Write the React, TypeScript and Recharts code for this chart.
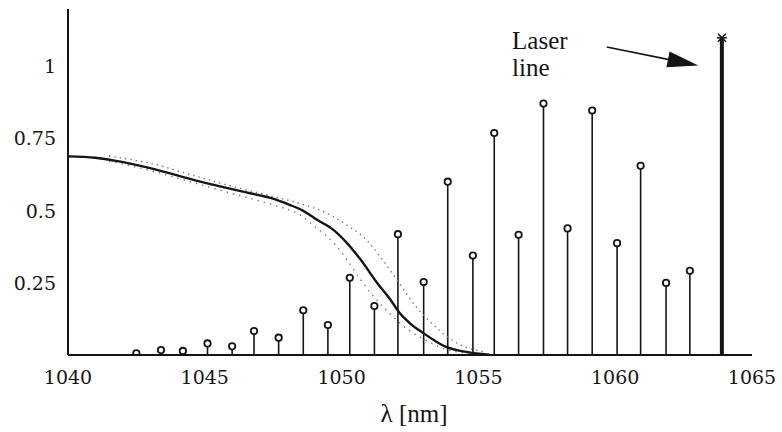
import { Bar, ComposedChart, Line, ReferenceDot, ReferenceLine, XAxis, YAxis } from "recharts";

// longitudinal modes (nm) and their relative power
const modeWavelength = [
  1042.5, 1043.4, 1044.2, 1045.1, 1046.0, 1046.8, 1047.7, 1048.6, 1049.5, 1050.3, 1051.2, 1052.06,
  1053.0, 1053.88, 1054.8, 1055.58, 1056.47, 1057.38, 1058.26, 1059.16, 1060.07, 1060.93, 1061.86, 1062.73,
];
const modePower = [
  0.006, 0.017, 0.014, 0.04, 0.03, 0.083, 0.06, 0.155, 0.104, 0.268, 0.17, 0.419,
  0.253, 0.601, 0.345, 0.77, 0.417, 0.872, 0.439, 0.848, 0.388, 0.656, 0.25, 0.292,
];
const laserWavelength = 1063.9;
const laserPower = 1.1;

// fitted transmission curve
const fitWavelength = [
  1040, 1041, 1041.7, 1043, 1044.8, 1046.65, 1047.4, 1048.1, 1048.6, 1049.1, 1049.7, 1050.2,
  1050.7, 1051.3, 1051.8, 1052.1, 1052.5, 1053.0, 1053.4, 1053.8, 1054.3, 1054.8, 1055.4,
];
const fitValue = [
  0.689, 0.684, 0.674, 0.648, 0.602, 0.561, 0.545, 0.521, 0.5, 0.469, 0.434, 0.388,
  0.33, 0.25, 0.19, 0.148, 0.11, 0.075, 0.05, 0.029, 0.015, 0.007, 0.001,
];

// scattered measured points, upper and lower edge of the cloud
const upperWavelength = [
  1041.5, 1043, 1044.5, 1046, 1047.5, 1048.5, 1049.5, 1050.2, 1050.9, 1051.5, 1052.1, 1052.7, 1053.3, 1053.9, 1054.6, 1055.3,
];
const upperValue = [0.69, 0.665, 0.625, 0.585, 0.55, 0.525, 0.49, 0.45, 0.4, 0.33, 0.25, 0.17, 0.11, 0.06, 0.025, 0.01];
const lowerWavelength = [
  1041.5, 1043, 1044.5, 1046, 1047.5, 1048.4, 1049.1, 1049.7, 1050.2, 1050.7, 1051.2, 1051.8, 1052.4, 1053.1, 1053.8, 1054.5,
];
const lowerValue = [0.672, 0.64, 0.6, 0.56, 0.52, 0.49, 0.44, 0.39, 0.33, 0.26, 0.2, 0.14, 0.09, 0.05, 0.02, 0.008];

const xTicks = [1040, 1045, 1050, 1055, 1060, 1065];
const yTicks = [0.25, 0.5, 0.75, 1];

const stems = [
  ...modeWavelength.map((w, i) => ({ w, p: modePower[i], laser: false })),
  { w: laserWavelength, p: laserPower, laser: true },
];
const fit = fitWavelength.map((w, i) => ({ w, v: fitValue[i] }));
const upper = upperWavelength.map((w, i) => ({ w, v: upperValue[i] }));
const lower = lowerWavelength.map((w, i) => ({ w, v: lowerValue[i] }));

const ink = "#151515";

const Stem = (props: any) => {
  const { x, y, width, height, payload } = props;
  const cx = x + width / 2;
  const base = y + height;
  if (payload.laser) {
    return (
      <g>
        <line x1={cx} x2={cx} y1={y} y2={base} stroke={ink} strokeWidth={4} />
        <line x1={cx - 4} x2={cx + 4} y1={y - 4} y2={y + 4} stroke={ink} strokeWidth={1.5} />
        <line x1={cx - 4} x2={cx + 4} y1={y + 4} y2={y - 4} stroke={ink} strokeWidth={1.5} />
        <line x1={cx - 5} x2={cx + 5} y1={y} y2={y} stroke={ink} strokeWidth={1.5} />
      </g>
    );
  }
  return (
    <g>
      <line x1={cx} x2={cx} y1={y} y2={base} stroke={ink} strokeWidth={1.6} />
      <circle cx={cx} cy={y} r={3.2} fill="#fff" stroke={ink} strokeWidth={1.8} />
    </g>
  );
};

const Arrow = (props: any) => {
  const { x1, y1, x2, y2 } = props;
  const ang = Math.atan2(y2 - y1, x2 - x1);
  const len = 31;
  const half = 8;
  const bx = x2 - len * Math.cos(ang);
  const by = y2 - len * Math.sin(ang);
  const px = -Math.sin(ang) * half;
  const py = Math.cos(ang) * half;
  return (
    <g>
      <line x1={x1} y1={y1} x2={bx} y2={by} stroke={ink} strokeWidth={1.6} />
      <polygon points={`${x2},${y2} ${bx + px},${by + py} ${bx - px},${by - py}`} fill={ink} />
    </g>
  );
};

const Note = (props: any) => {
  const { cx, cy } = props;
  return (
    <g fontFamily="Liberation Serif" fontSize={25} fill={ink}>
      <text x={cx} y={cy}>Laser</text>
      <text x={cx} y={cy + 27}>line</text>
    </g>
  );
};

const tickStyle = { fontFamily: "DejaVu Serif", fontSize: 19, fill: ink };

export default function App() {
  return (
    <div style={{ position: "absolute", left: 0, top: 0, background: "#fff" }}>
      <ComposedChart width={782} height={432} data={stems} margin={{ top: 9, right: 30, bottom: 0, left: 8 }}>
        <XAxis
          dataKey="w"
          type="number"
          domain={[1040, 1065]}
          ticks={xTicks}
          allowDataOverflow
          tickLine={false}
          axisLine={{ stroke: ink, strokeWidth: 2 }}
          tick={tickStyle}
          tickMargin={10}
          height={77}
          label={{ value: "λ [nm]", position: "insideBottom", offset: 10, dx: 4, style: { fontFamily: "Liberation Serif", fontSize: 25, fill: ink } }}
        />
        <YAxis
          type="number"
          domain={[0, 1.2]}
          ticks={yTicks}
          allowDataOverflow
          tickLine={false}
          axisLine={{ stroke: ink, strokeWidth: 2 }}
          tick={tickStyle}
          tickMargin={6}
          width={60}
        />
        <Line data={upper} dataKey="v" type="monotone" stroke="#777" strokeWidth={1.4} strokeDasharray="1.4 4" dot={false} isAnimationActive={false} />
        <Line data={lower} dataKey="v" type="monotone" stroke="#777" strokeWidth={1.4} strokeDasharray="1.4 5" dot={false} isAnimationActive={false} />
        <Bar dataKey="p" barSize={2} shape={Stem} isAnimationActive={false} />
        <Line data={fit} dataKey="v" type="monotone" stroke={ink} strokeWidth={2.4} dot={false} isAnimationActive={false} />
        <ReferenceLine segment={[{ x: 1059.69, y: 1.068 }, { x: 1063.04, y: 1.004 }]} shape={Arrow} />
        <ReferenceDot x={1056.23} y={1.0625} r={0} shape={Note} />
      </ComposedChart>
    </div>
  );
}
